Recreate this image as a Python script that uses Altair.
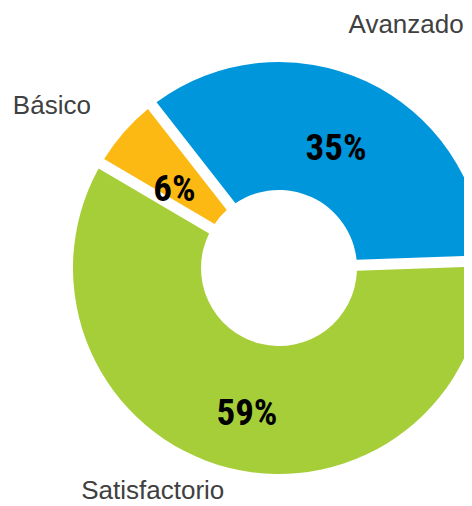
import math
import altair as alt
import pandas as pd

categories = ["Avanzado", "Satisfactorio", "Básico"]
values = [35, 59, 6]
pct_labels = ["35%", "59%", "6%"]
colors = ["#0096DB", "#A6CE39", "#FDB913"]

df = pd.DataFrame({"cat": categories, "val": values, "pct": pct_labels,
                   "ord": list(range(len(categories)))})

start = math.radians(-38)
CX, CY = 271, 260
tscale = alt.Scale(domain=[0, 100], range=[start, start + 2 * math.pi])

arcs = alt.Chart(df).mark_arc(innerRadius=78, outerRadius=206, padAngle=0.05).encode(
    theta=alt.Theta("val:Q", stack=True, scale=tscale),
    order=alt.Order("ord:Q"),
    x=alt.value(CX), y=alt.value(CY),
    color=alt.Color("cat:N", scale=alt.Scale(domain=categories, range=colors), legend=None),
)

lab = alt.Chart(df).transform_window(
    cum="sum(val)", sort=[alt.SortField("ord")], frame=[None, 0]
).transform_calculate(mid="datum.cum - datum.val / 2").encode(
    theta=alt.Theta("mid:Q", stack=None, scale=tscale),
    x=alt.value(CX), y=alt.value(CY),
)

PCT_FONT = "Roboto Condensed, Open Sans Condensed, Noto Sans Condensed, DejaVu Sans Condensed, sans-serif"

def pct_text(cat, r, dx, dy):
    return lab.mark_text(radius=r, dx=dx, dy=dy, fontSize=37, fontWeight="bold",
                         font=PCT_FONT, color="black", baseline="middle",
                         align="center").encode(text="pct:N").transform_filter(
        alt.datum.cat == cat)

def out_text(cat, r, dx, dy):
    return lab.mark_text(radius=r, dx=dx, dy=dy, fontSize=26,
                         font="Liberation Sans, Arial, sans-serif",
                         color="#404040", baseline="alphabetic",
                         align="center").encode(text="cat:N").transform_filter(
        alt.datum.cat == cat)

layers = [arcs,
          pct_text("Avanzado", 135, 0, 3),
          pct_text("Básico", 135, -3, 11),
          pct_text("Satisfactorio", 147, 4, 3),
          out_text("Avanzado", 270, 13, 10),
          out_text("Básico", 270, -24, 24),
          out_text("Satisfactorio", 270, -60, -31)]

chart = alt.layer(*layers).properties(
    width=456, height=496, padding=0, autosize=alt.AutoSizeParams(type="none")
).configure_view(stroke=None)

chart.save("out.html", embed_options={"renderer": "svg", "actions": False})
